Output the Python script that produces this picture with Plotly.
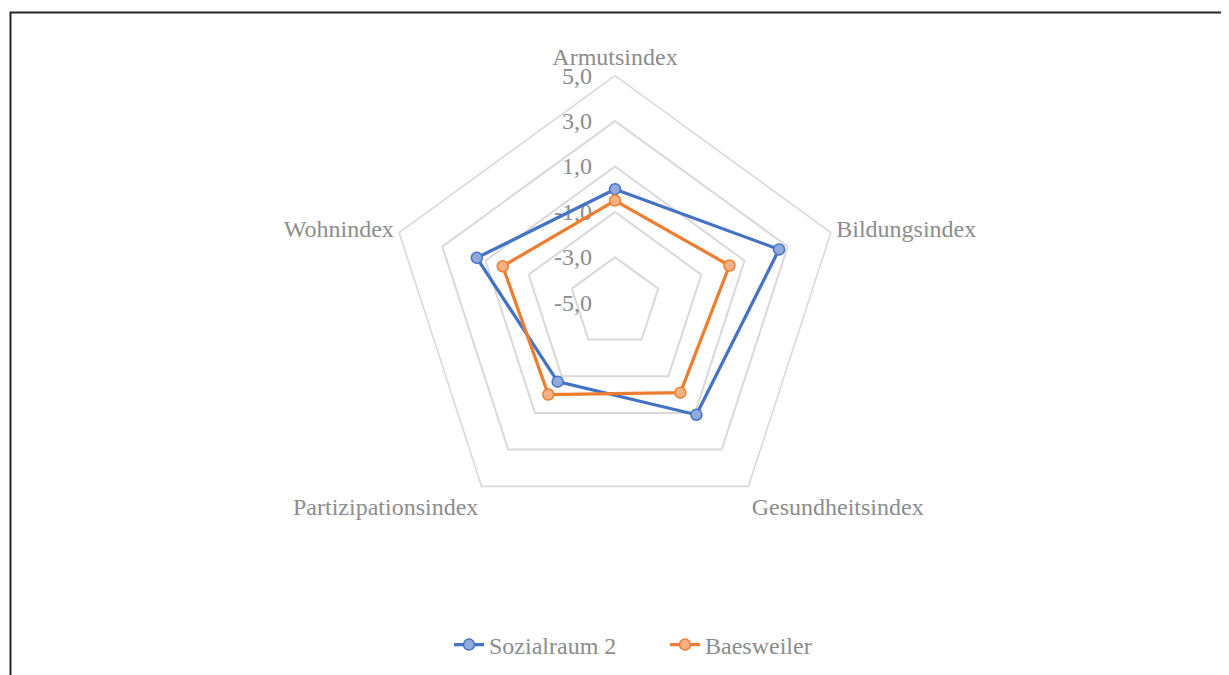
import plotly.graph_objects as go

categories = ["Armutsindex", "Bildungsindex", "Gesundheitsindex", "Partizipationsindex", "Wohnindex"]
sozialraum2 = [0.0, 2.6, 1.1, -0.7, 1.4]
baesweiler = [-0.5, 0.3, -0.1, 0.0, 0.2]
tick_vals = [-5, -3, -1, 1, 3, 5]
tick_text = ["-5,0", "-3,0", "-1,0", "1,0", "3,0", "5,0"]

FONT = "Liberation Serif"
TXT = "#8C8C8C"
GRID = "#D9D9D9"
FS = 24

W, H = 1229, 675
OFF = 8  # page body margin
cx, cy, R = 615 - OFF, 302.7 - OFF, 227
domain = dict(x=[(cx - R) / W, (cx + R) / W], y=[(H - cy - R) / H, (H - cy + R) / H])

series = [
    ("Sozialraum 2", sozialraum2, "#4472C4", "#8FAADC"),
    ("Baesweiler", baesweiler, "#ED7D31", "#F4B183"),
]

fig = go.Figure()

def closed(v):
    return v + v[:1]

for name, vals, lc, fc in series:
    fig.add_trace(go.Scatterpolar(
        r=closed(vals), theta=closed(categories), name=name,
        mode="lines+markers",
        line=dict(color=lc, width=3.25),
        marker=dict(size=11, color=fc, line=dict(color=lc, width=1.5)),
    ))
# markers drawn on an overlaid polar subplot with the same scales
for name, vals, lc, fc in series:
    fig.add_trace(go.Scatterpolar(
        r=vals, theta=categories, name=name, showlegend=False, subplot="polar2",
        mode="markers",
        marker=dict(size=11, color=fc, line=dict(color=lc, width=1.5)),
    ))

hidden_radial = dict(range=[-5, 5], showline=False, showgrid=False, showticklabels=False, ticks="")
hidden_angular = dict(direction="clockwise", rotation=90, showline=False, showgrid=False,
                      showticklabels=False, ticks="", categoryarray=categories, categoryorder="array")

fig.update_layout(
    width=W, height=H,
    margin=dict(l=0, r=0, t=0, b=0),
    paper_bgcolor="white",
    plot_bgcolor="white",
    font=dict(family=FONT, size=FS, color=TXT),
    polar=dict(
        domain=domain,
        bgcolor="white",
        gridshape="linear",
        radialaxis=dict(
            range=[-5, 5], tickvals=tick_vals, ticktext=tick_text,
            angle=90, side="counterclockwise", tickangle=90,
            showline=False, showgrid=True, gridcolor=GRID, gridwidth=1.6,
            ticks="outside", ticklen=14, tickcolor="rgba(0,0,0,0)",
            tickfont=dict(family=FONT, size=FS, color=TXT),
            layer="below traces",
        ),
        angularaxis=dict(
            direction="clockwise", rotation=90,
            categoryarray=categories, categoryorder="array",
            showgrid=False, showline=True, linecolor=GRID, linewidth=1.6,
            ticks="", tickfont=dict(family=FONT, size=FS, color=TXT),
            layer="below traces",
        ),
    ),
    polar2=dict(
        domain=domain,
        bgcolor="rgba(0,0,0,0)",
        radialaxis=hidden_radial,
        angularaxis=hidden_angular,
    ),
    legend=dict(
        orientation="h", x=(449 - OFF) / W, xanchor="left", y=(H - 645 + OFF) / H, yanchor="middle",
        font=dict(family=FONT, size=FS, color=TXT),
        entrywidth=171, entrywidthmode="pixels",
    ),
    shapes=[dict(
        type="rect", xref="paper", yref="paper",
        x0=(10.5 - OFF) / W, x1=1.02, y0=-0.05, y1=(H - 12.5 + OFF) / H,
        line=dict(color="#262626", width=2), fillcolor="rgba(0,0,0,0)", layer="above",
    )],
)

fig.write_html("out.html")
